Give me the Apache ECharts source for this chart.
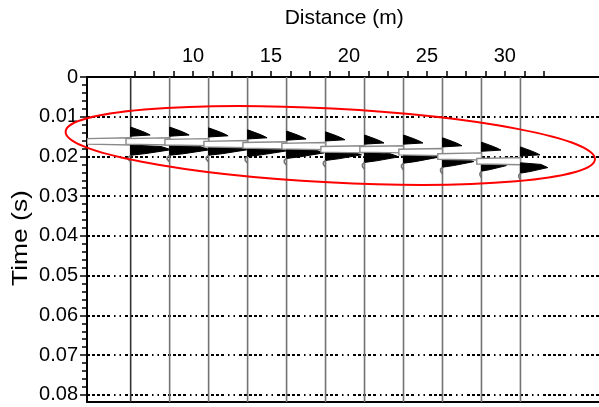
<!DOCTYPE html>
<html>
<head>
<meta charset="utf-8">
<script src="https://cdn.jsdelivr.net/npm/echarts@6/dist/echarts.min.js"></script>
<style>
  html, body { margin: 0; padding: 0; background: #fff; }
  #chart { width: 599px; height: 407px; }
</style>
</head>
<body>
<div id="chart"></div>
<script>
// Receiver offsets along the line (m)
const offsets = [6, 8.5, 11, 13.5, 16, 18.5, 21, 23.5, 26, 28.5, 31];
// Onset of the first arrival on each trace (s)
const firstOnset = [0.0126, 0.0126, 0.0128, 0.0133, 0.0136, 0.0138, 0.0146, 0.0146, 0.0153, 0.0164, 0.0176];
// Onset of the second, stronger arrival on each trace (s)
const secondOnset = [0.0171, 0.0171, 0.0171, 0.0174, 0.0179, 0.0184, 0.0189, 0.0191, 0.0201, 0.0211, 0.0216];
// Peak deflection of the second arrival on each trace (m)
const secondPeak = [2.6, 2.6, 2.5, 2.5, 2.4, 2.3, 2.2, 2.1, 2.0, 1.6, 1.75];

// First-arrival pulse: time after onset (s) and deflection (m)
const firstWaveT = [0, 0.0005, 0.0010, 0.0015, 0.0020, 0.0023];
const firstWaveA = [0, 0.35, 0.7, 1.0, 1.25, 0];
// Trough that follows the first arrival: time after onset (s) and deflection (m)
const troughT = [0.0027, 0.0029, 0.0043, 0.0045];
const troughA = [0, -2.8, -2.8, 0];
// Second-arrival pulse: time after onset (s) and deflection relative to its peak
const secondWaveT = [0, 0.0004, 0.0012, 0.0022, 0.0026, 0.0031, 0.0036, 0.0043];
const secondWaveA = [0, 0.75, 1, 0.35, 0, -0.06, -0.06, 0];

// Axis ranges and tick labels
const distanceRange = [3.2, 37];
const timeRange = [0, 0.0818];
const distanceTickRange = [6.25, 32.5];
const distanceTickLabels = [10, 15, 20, 25, 30];
const timeTickLabels = ['0', '0.01', '0.02', '0.03', '0.04', '0.05', '0.06', '0.07', '0.08'];

// Highlight ellipse around the two arrivals: its two ends (m, s) and half height (s)
const ellipseEnds = [[1.83, 0.01376], [35.78, 0.0207]];
const ellipseHalfHeight = 0.0093;

const plotLeft = 87, plotTop = 77, plotWidth = 527, plotHeight = 325;
const pxPerMetre = plotWidth / (distanceRange[1] - distanceRange[0]);
const pxPerSecond = plotHeight / (timeRange[1] - timeRange[0]);
const lastTimeTick = 0.08;

const font = "'Liberation Sans', Arial, Helvetica, sans-serif";
const traceColor = '#737373';

function traceItem(params, api) {
  const i = params.dataIndex;
  const x0 = offsets[i];
  const pt = (dx, t) => api.coord([x0 + dx, t]);
  const top = pt(0, timeRange[0]);
  const bottom = pt(0, timeRange[1]);
  const children = [];
  children.push({
    type: 'line',
    shape: { x1: top[0], y1: top[1], x2: bottom[0], y2: bottom[1] },
    style: { stroke: i === 0 ? '#333' : traceColor, lineWidth: 1.6 }
  });
  // trough, swinging left: white with a grey outline
  children.push({
    type: 'polygon',
    shape: { points: troughT.map((t, k) => pt(troughA[k], firstOnset[i] + t)) },
    style: { fill: '#fff', stroke: '#8a8a8a', lineWidth: 1.4 }
  });
  // first arrival, positive lobe filled black
  children.push({
    type: 'polygon',
    shape: { points: firstWaveT.map((t, k) => pt(firstWaveA[k], firstOnset[i] + t)) },
    style: { fill: '#000', stroke: '#000', lineWidth: 1 }
  });
  // second arrival: black positive lobe, grey tail
  const secPts = secondWaveT.map((t, k) => pt(secondWaveA[k] * secondPeak[i], secondOnset[i] + t));
  const lastPos = secondWaveA.indexOf(0, 1);
  children.push({
    type: 'polygon',
    shape: { points: secPts.slice(0, lastPos + 1) },
    style: { fill: '#000', stroke: '#000', lineWidth: 1 }
  });
  children.push({
    type: 'polyline',
    shape: { points: secPts.slice(lastPos) },
    style: { fill: 'none', stroke: traceColor, lineWidth: 1.6 }
  });
  return { type: 'group', children };
}

function ellipseItem(params, api) {
  const a = api.coord(ellipseEnds[0]);
  const b = api.coord(ellipseEnds[1]);
  const rx = Math.hypot(b[0] - a[0], b[1] - a[1]) / 2;
  const ry = Math.abs(api.size([0, ellipseHalfHeight])[1]);
  const ang = Math.atan2(b[1] - a[1], b[0] - a[0]);
  return {
    type: 'ellipse',
    x: (a[0] + b[0]) / 2,
    y: (a[1] + b[1]) / 2,
    rotation: -ang,
    shape: { cx: 0, cy: 0, rx: rx, ry: ry },
    style: { fill: 'none', stroke: '#ff0000', lineWidth: 2 }
  };
}

const blackLine = { color: '#000', width: 2 };
const hidden = { show: false };

const chart = echarts.init(document.getElementById('chart'), null, { renderer: 'canvas' });
chart.setOption({
  animation: false,
  backgroundColor: '#fff',
  grid: [
    { left: plotLeft, top: plotTop, width: plotWidth, height: plotHeight, outerBoundsMode: 'none', containLabel: false },
    { left: plotLeft, top: plotTop, width: plotWidth, height: (lastTimeTick - timeRange[0]) * pxPerSecond, outerBoundsMode: 'none', containLabel: false },
    {
      left: plotLeft + (distanceTickRange[0] - distanceRange[0]) * pxPerMetre,
      top: plotTop,
      width: (distanceTickRange[1] - distanceTickRange[0]) * pxPerMetre,
      height: plotHeight,
      outerBoundsMode: 'none', containLabel: false
    }
  ],
  graphic: [
    {
      type: 'text', x: 21, y: 238, rotation: Math.PI / 2, scaleX: 1.2,
      style: {
        text: 'Time (s)', fill: '#000', font: "22px 'Liberation Sans', Arial, sans-serif",
        align: 'center', verticalAlign: 'middle'
      }
    }
  ],
  xAxis: [
    {
      gridIndex: 0, type: 'value', position: 'top',
      min: distanceRange[0], max: distanceRange[1],
      axisLine: { show: true, onZero: false, lineStyle: blackLine },
      axisTick: hidden, axisLabel: hidden, splitLine: hidden
    },
    {
      gridIndex: 0, type: 'value', position: 'bottom',
      min: distanceRange[0], max: distanceRange[1],
      axisLine: { show: true, onZero: false, lineStyle: blackLine },
      axisTick: hidden, axisLabel: hidden, splitLine: hidden
    },
    { gridIndex: 1, type: 'value', show: false, min: 0, max: 1 },
    {
      gridIndex: 2, type: 'value', position: 'top',
      min: distanceTickRange[0], max: distanceTickRange[1], interval: 1.25,
      axisLine: { show: false, onZero: false },
      axisTick: { show: true, inside: false, length: 6, lineStyle: { color: '#000', width: 1.5 } },
      axisLabel: {
        margin: 11, color: '#000', fontSize: 20, fontFamily: font,
        formatter: v => distanceTickLabels.some(d => Math.abs(d - v) < 1e-6) ? String(Math.round(v)) : ''
      },
      splitLine: hidden,
      name: 'Distance (m)', nameLocation: 'middle', nameGap: 48,
      nameTextStyle: { color: '#000', fontSize: 21, fontFamily: font, padding: [0, 0, 0, 10] }
    }
  ],
  yAxis: [
    {
      gridIndex: 0, type: 'value', inverse: true,
      min: timeRange[0], max: timeRange[1], interval: 0.01,
      axisLine: { show: true, onZero: false, lineStyle: blackLine },
      axisTick: hidden, axisLabel: hidden,
      splitLine: {
        show: true, showMinLine: false, showMaxLine: false,
        lineStyle: { color: '#000', width: 2, type: [3, 2, 3, 2, 3, 2, 3, 2, 3, 4, 1.5, 4, 1.5, 4] }
      }
    },
    {
      gridIndex: 1, type: 'value', inverse: true,
      min: timeRange[0], max: lastTimeTick, interval: 0.01,
      axisLine: { show: false, onZero: false },
      axisTick: { show: true, inside: false, length: 7, lineStyle: { color: '#000', width: 1.5 } },
      minorTick: { show: true, splitNumber: 5, length: 5, lineStyle: { color: '#000', width: 1.5 } },
      axisLabel: {
        margin: 9, color: '#000', fontSize: 20, fontFamily: font,
        formatter: v => timeTickLabels[Math.round(v / 0.01)] || ''
      },
      splitLine: hidden
    },
    { gridIndex: 2, type: 'value', show: false, min: 0, max: 1 }
  ],
  series: [
    {
      type: 'custom', name: 'traces',
      xAxisIndex: 0, yAxisIndex: 0,
      clip: true,
      renderItem: traceItem,
      data: offsets.map(x => [x, 0]),
      z: 3
    },
    {
      type: 'custom', name: 'highlight',
      xAxisIndex: 0, yAxisIndex: 0,
      clip: false,
      renderItem: ellipseItem,
      data: [[ellipseEnds[0][0], ellipseEnds[0][1]]],
      z: 5
    }
  ]
});
</script>
</body>
</html>
